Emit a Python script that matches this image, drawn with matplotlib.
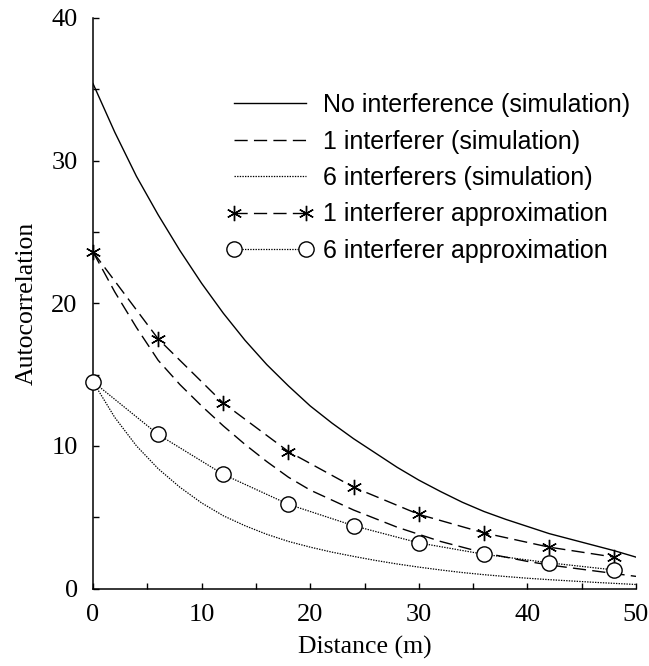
import numpy as np
import matplotlib
matplotlib.use("Agg")
import matplotlib.pyplot as plt

# simulated curves, every 2 m
sim_x = [0, 2, 4, 6, 8, 10, 12, 14, 16, 18, 20, 22, 24, 26, 28, 30,
         32, 34, 36, 38, 40, 42, 44, 46, 48, 50]
no_interf = [35.4, 32.0, 28.9, 26.2, 23.7, 21.4, 19.3, 17.4, 15.7, 14.2, 12.8,
             11.6, 10.5, 9.5, 8.5, 7.6, 6.8, 6.05, 5.4, 4.85, 4.35, 3.85,
             3.45, 3.05, 2.65, 2.2]
one_interf = [23.6, 20.8, 18.3, 16.0, 14.3, 12.8, 11.4, 10.1, 8.9, 7.8, 6.9,
              6.2, 5.5, 4.9, 4.3, 3.8, 3.3, 2.9, 2.5, 2.2, 1.9, 1.65, 1.45,
              1.25, 1.05, 0.85]
six_interf = [14.5, 12.0, 10.0, 8.4, 7.1, 6.0, 5.1, 4.4, 3.8, 3.3, 2.9, 2.55,
              2.25, 1.97, 1.72, 1.5, 1.3, 1.12, 0.97, 0.84, 0.72, 0.62, 0.53,
              0.44, 0.36, 0.28]

# analytical approximations, at the marker positions
approx_x = [0, 6, 12, 18, 24, 30, 36, 42, 48]
one_approx = [23.6, 17.5, 13.0, 9.6, 7.1, 5.2, 3.9, 2.9, 2.2]
six_approx = [14.5, 10.8, 8.0, 5.9, 4.4, 3.2, 2.4, 1.8, 1.3]

labels = ['No interference (simulation)', '1 interferer (simulation)',
          '6 interferers (simulation)', '1 interferer approximation',
          '6 interferer approximation']

serif = ['Liberation Serif', 'DejaVu Serif']
sans = ['Liberation Sans', 'DejaVu Sans']

fig = plt.figure(figsize=(6.49, 6.66), dpi=100)
ax = fig.add_axes([93/649, 1-588.5/666, (636-93)/649, (588.5-18)/666])

dash = (0, (9.5, 4.5))
dot = (0, (1.1, 1.0))

ax.plot(sim_x, no_interf, '-', color='black', lw=1.0, label=labels[0])
ax.plot(sim_x, one_interf, color='black', lw=1.0, linestyle=dash, label=labels[1])
ax.plot(sim_x, six_interf, color='black', lw=0.9, linestyle=dot, label=labels[2])
ax.plot(approx_x, one_approx, color='black', lw=1.0, linestyle=dash,
        marker=(6, 2, 0), ms=11, mew=1.0, clip_on=False, label=labels[3])
ax.plot(approx_x, six_approx, color='black', lw=0.9, linestyle=dot,
        marker='o', ms=11, mfc='white', mec='black', mew=1.0, clip_on=False,
        zorder=3, label=labels[4])

ax.set_xlim(0, 50)
ax.set_ylim(0, 40)
ax.set_xticks([0, 10, 20, 30, 40, 50])
ax.set_xticks([5, 15, 25, 35, 45], minor=True)
ax.set_yticks([0, 10, 20, 30, 40])
ax.set_yticks([5, 15, 25, 35], minor=True)
for s in ('top', 'right'):
    ax.spines[s].set_visible(False)
for s in ('left', 'bottom'):
    ax.spines[s].set_linewidth(1.1)
ax.tick_params(which='both', direction='in', length=4.5, width=1.0)
ax.tick_params(axis='x', pad=11)
ax.tick_params(axis='y', pad=11)
for t in ax.get_xticklabels() + ax.get_yticklabels():
    t.set_family(serif)
    t.set_fontsize(19)

ax.set_xlabel('Distance (m)', family=serif, fontsize=18.5, labelpad=7)
ax.set_ylabel('Autocorrelation', family=serif, fontsize=18.5, labelpad=10)

ax.legend(loc='upper left', bbox_to_anchor=((226-93)/543, 1-(93-18)/570.5),
          frameon=False, numpoints=2, handlelength=3.5, handletextpad=0.38,
          labelspacing=0.5, borderpad=0, borderaxespad=0,
          prop={'family': sans, 'size': 18})

fig.savefig('out.png', dpi=100)
